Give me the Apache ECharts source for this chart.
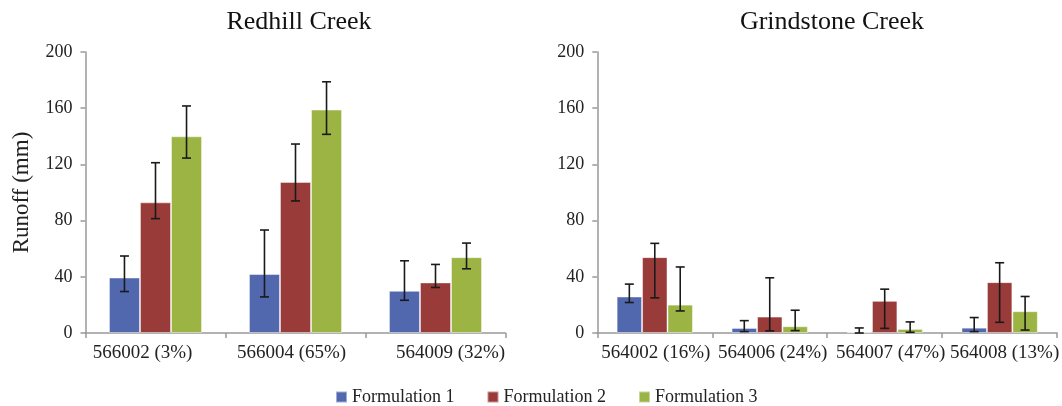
<!DOCTYPE html>
<html>
<head>
<meta charset="utf-8">
<script src="https://cdn.jsdelivr.net/npm/echarts@6/dist/echarts.min.js"></script>
<style>html,body{margin:0;padding:0;background:#fff}#c{width:1062px;height:406px}</style>
</head>
<body>
<div id="c"></div>
<script>
const seriesNames = ['Formulation 1', 'Formulation 2', 'Formulation 3'];
const colors = ['#5268AE', '#993B39', '#9BB443'];
const yTicks = [0, 40, 80, 120, 160, 200];

const redhillCats = ['566002 (3%)', '566004 (65%)', '564009 (32%)'];
const redhillF1 = [39.5, 42, 30];
const redhillF2 = [93, 107.5, 36];
const redhillF3 = [140, 159, 54];
const redhillF1Low = [29.5, 25.7, 23.3];
const redhillF1High = [54.8, 73.3, 51.4];
const redhillF2Low = [81.4, 94, 32.4];
const redhillF2High = [121.2, 134.5, 48.8];
const redhillF3Low = [124.5, 141.4, 45.7];
const redhillF3High = [161.6, 178.8, 64];

const grindCats = ['564002 (16%)', '564006 (24%)', '564007 (47%)', '564008 (13%)'];
const grindF1 = [26, 3.6, 0.7, 3.8];
const grindF2 = [54, 11.7, 22.9, 36.2];
const grindF3 = [20.2, 4.8, 2.9, 15.5];
const grindF1Low = [21.7, 1, 0, 1];
const grindF1High = [34.8, 8.8, 3.6, 11];
const grindF2Low = [25, 1.5, 3.3, 7.6];
const grindF2High = [63.8, 39.3, 31.2, 50];
const grindF3Low = [15.7, 1.7, 0.5, 2.1];
const grindF3High = [47, 16.2, 7.9, 26];

const FONT = 'Liberation Serif';
// horizontal nudges of category labels (layout only), px
const labelShiftL = [-13, -4, 15];
const labelShiftR = [1, 3, 6, 5];

function errSeries(gi, s, lows, highs, gap) {
  const data = lows.map((l, i) => [i, l, highs[i]]);
  return {
    type: 'custom', xAxisIndex: gi, yAxisIndex: gi, z: 10, silent: true,
    data: data,
    encode: { x: 0, y: [1, 2] },
    renderItem: function (params, api) {
      const i = api.value(0);
      const band = api.size([1, 0])[0];
      const bw = band * (1 - gap) / 3;
      const lo = api.coord([i, api.value(1)]);
      const hi = api.coord([i, api.value(2)]);
      const x = lo[0] + (s - 1) * bw;
      const cap = 4.5;
      const st = { stroke: '#1a1a1a', lineWidth: 1.6 };
      return {
        type: 'group',
        children: [
          { type: 'line', shape: { x1: x, y1: lo[1], x2: x, y2: hi[1] }, style: st },
          { type: 'line', shape: { x1: x - cap, y1: lo[1], x2: x + cap, y2: lo[1] }, style: st },
          { type: 'line', shape: { x1: x - cap, y1: hi[1], x2: x + cap, y2: hi[1] }, style: st }
        ]
      };
    }
  };
}

function barSeries(gi, s, vals, gap) {
  return {
    name: seriesNames[s], type: 'bar', xAxisIndex: gi, yAxisIndex: gi,
    data: vals, barGap: 0, barCategoryGap: (gap * 100) + '%',
    itemStyle: { color: colors[s], borderColor: 'rgba(255,255,255,0.45)', borderWidth: 1 }
  };
}

const tickStyle = { show: true, length: 5, lineStyle: { color: '#999', width: 1.5 } };

function xAx(gi, cats, shifts) {
  const rich = {};
  shifts.forEach((d, i) => {
    rich['s' + i] = {
      fontFamily: FONT, fontSize: 19, color: '#222',
      padding: d < 0 ? [0, -2 * d, 0, 0] : [0, 0, 0, 2 * d]
    };
  });
  return {
    type: 'category', gridIndex: gi, data: cats,
    axisLine: { lineStyle: { color: '#999', width: 1.5 } }, axisTick: tickStyle,
    axisLabel: {
      color: '#222', fontFamily: FONT, fontSize: 19, margin: 11, interval: 0,
      formatter: function (v, i) { return '{s' + i + '|' + v + '}'; },
      rich: rich
    }
  };
}
function yAx(gi, name) {
  return {
    type: 'value', gridIndex: gi, min: yTicks[0], max: yTicks[yTicks.length - 1], interval: 40,
    axisLine: { show: true, lineStyle: { color: '#999', width: 1.5 } },
    axisTick: tickStyle,
    splitLine: { show: false },
    axisLabel: { color: '#222', fontFamily: FONT, fontSize: 18, margin: 13 },
    name: name, nameLocation: 'middle', nameGap: 52,
    nameTextStyle: { color: '#222', fontFamily: FONT, fontSize: 23 }
  };
}

const chart = echarts.init(document.getElementById('c'), null, { renderer: 'canvas' });
const gapL = 0.335, gapR = 0.336;
chart.setOption({
  animation: false,
  color: colors,
  title: [
    { text: 'Redhill Creek', left: 294, top: 4, textAlign: 'center',
      textStyle: { fontFamily: FONT, fontSize: 26, fontWeight: 'normal', color: '#111' } },
    { text: 'Grindstone Creek', left: 827, top: 4, textAlign: 'center',
      textStyle: { fontFamily: FONT, fontSize: 26, fontWeight: 'normal', color: '#111' } }
  ],
  legend: {
    data: seriesNames, left: 335, top: 388, padding: 0, icon: 'rect', itemWidth: 11, itemHeight: 11,
    itemGap: 32, textStyle: { fontFamily: FONT, fontSize: 18, color: '#222' }
  },
  grid: [
    { left: 85.5, top: 52, width: 420, height: 281 },
    { left: 597.3, top: 52, width: 462, height: 281 }
  ],
  xAxis: [xAx(0, redhillCats, labelShiftL), xAx(1, grindCats, labelShiftR)],
  yAxis: [yAx(0, 'Runoff (mm)'), yAx(1, '')],
  series: [
    barSeries(0, 0, redhillF1, gapL), barSeries(0, 1, redhillF2, gapL), barSeries(0, 2, redhillF3, gapL),
    barSeries(1, 0, grindF1, gapR), barSeries(1, 1, grindF2, gapR), barSeries(1, 2, grindF3, gapR),
    errSeries(0, 0, redhillF1Low, redhillF1High, gapL),
    errSeries(0, 1, redhillF2Low, redhillF2High, gapL),
    errSeries(0, 2, redhillF3Low, redhillF3High, gapL),
    errSeries(1, 0, grindF1Low, grindF1High, gapR),
    errSeries(1, 1, grindF2Low, grindF2High, gapR),
    errSeries(1, 2, grindF3Low, grindF3High, gapR)
  ]
});
</script>
</body>
</html>
